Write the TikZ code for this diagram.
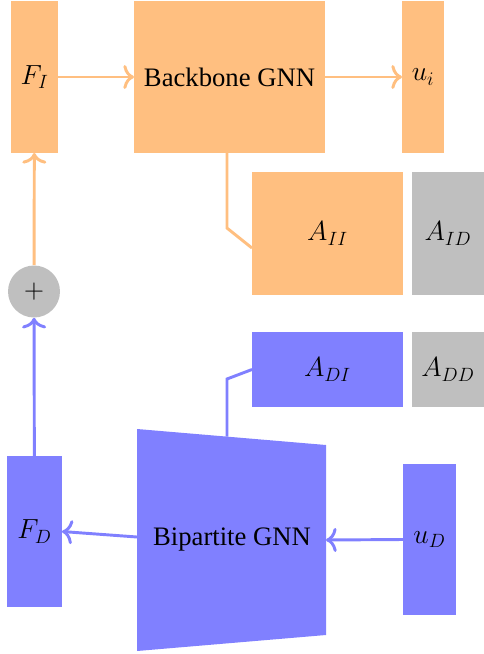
\documentclass[tikz,border=0pt]{standalone}
\usepackage{fontspec}
\setmainfont{Liberation Serif}
\newfontfamily\diagserif{Liberation Serif}
\usetikzlibrary{arrows.meta}
\begin{document}
\begin{tikzpicture}[x=0.75pt,y=-0.75pt,
  font=\diagserif\fontsize{20}{24}\selectfont,
  >={To[length=8pt,width=18pt]},
  box/.style={inner sep=0pt, outer sep=0pt, draw=none},
  obox/.style={box, fill=orange!50},
  bbox/.style={box, fill=blue!50},
  gbox/.style={box, fill=gray!50},
  oline/.style={draw=orange!50, line width=2.2pt},
  bline/.style={draw=blue!50, line width=2.2pt},
  oarr/.style={oline, ->},
  barr/.style={bline, ->}]
\useasboundingbox (0,0) rectangle (484,654);
% top row
\node[obox, minimum width=35.25pt, minimum height=114pt] (FI) at (34.5,77) {$F_I$};
\node[obox, minimum width=143.25pt, minimum height=114pt] (BB) at (229.5,77) {Backbone GNN};
\node[obox, minimum width=31.5pt, minimum height=114pt] (ui) at (423,77) {$u_i$};
% adjacency blocks
\node[obox, minimum width=113.25pt, minimum height=92.25pt] (AII) at (327.5,233.5) {$A_{II}$};
\node[gbox, minimum width=54pt, minimum height=92.25pt] (AID) at (448,233.5) {$A_{ID}$};
\node[bbox, minimum width=113.25pt, minimum height=56.25pt] (ADI) at (327.5,369.5) {$A_{DI}$};
\node[gbox, minimum width=54pt, minimum height=56.25pt] (ADD) at (448,369.5) {$A_{DD}$};
% plus
\node[circle, fill=gray!50, inner sep=0pt, minimum size=39pt] (plus) at (34,291.5) {$+$};
% bottom row
\node[bbox, minimum width=41.25pt, minimum height=113.25pt] (FD) at (34.5,531.5) {$F_D$};
\node[bbox, minimum width=39.75pt, minimum height=113.25pt] (uD) at (429.5,539.5) {$u_D$};
\fill[blue!50] (137,429) -- (326,445) -- (326,635) -- (137,651) -- cycle;
\node[box] (bip) at (232,540) {Bipartite GNN};
\coordinate (bipN) at (227,436.6);
\coordinate (bipW) at (137,537);
\coordinate (bipE) at (326,540);
% connectors
\draw[oarr] (FI.east) -- (BB.west);
\draw[oarr] (BB.east) -- (ui.west);
\draw[oline] ([xshift=-1.9pt]BB.south) -- ++(0,75) -- ([yshift=-10.9pt]AII.west);
\draw[oarr] (plus) -- (FI);
\draw[barr] (FD) -- (plus);
\draw[barr] (bipW) -- (FD.east);
\draw[barr] (uD.west) -- (bipE);
\draw[bline] (ADI.west) -- (227,379) -- (bipN);
\end{tikzpicture}
\end{document}
